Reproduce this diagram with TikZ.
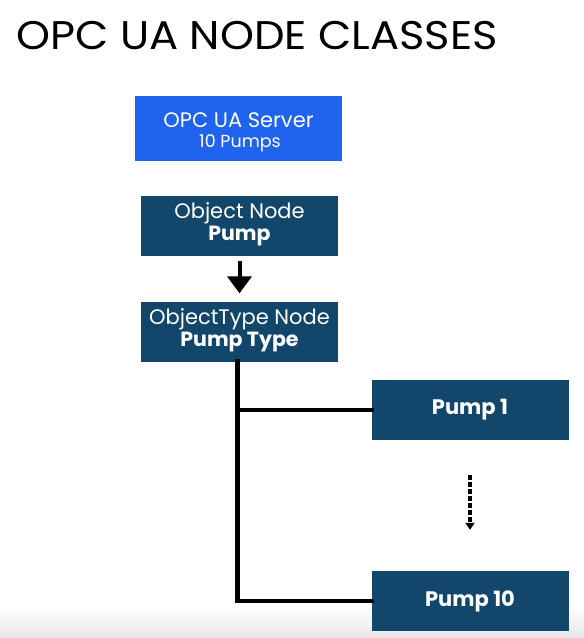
\documentclass[tikz,border=0pt]{standalone}
\usepackage{fontspec}
\setmainfont{Poppins}
\usetikzlibrary{arrows.meta}
\definecolor{navy}{HTML}{12476B}
\definecolor{srvblue}{HTML}{1F63EE}
\begin{document}
\begin{tikzpicture}[x=1pt,y=-1pt,
  navybox/.style={fill=navy, text=white, inner sep=0pt, align=center, minimum width=197pt, minimum height=60pt},
  srvbox/.style={fill=srvblue, text=white, inner sep=0pt, align=center, minimum width=207pt, minimum height=65pt},
  conn/.style={line width=4.5pt, line cap=rect},
  bigarrow/.style={line width=4pt, -{Triangle[width=24pt,length=17pt]}},
  dotarrow/.style={line width=4.5pt, dash pattern=on 5pt off 2pt, -{Triangle[width=9pt,length=7pt]}},
  lt/.style={font=\fontsize{21}{25}\selectfont},
  bd/.style={font=\fontsize{20.5}{25}\selectfont\bfseries}
]
\useasboundingbox (0,0) rectangle (584,638);
\fill[white] (0,0) rectangle (584,638);
\shade[top color=white, bottom color=black!10] (0,606) rectangle (584,638);

\node[anchor=west, font=\fontsize{40}{46}\selectfont, inner sep=0pt] (title) at (16,36) {\scalebox{1.08}[1]{OPC UA NODE CLASSES}};

\node[srvbox] (srv) at (238.5,128.5) {};
\node[text=white, font=\fontsize{21}{25}\selectfont, inner sep=0pt] (srvt1) at (238.5,120) {OPC UA Server};
\node[text=white, font=\fontsize{17.5}{21}\selectfont, inner sep=0pt] (srvt2) at (240,143) {10 Pumps};

\node[navybox] (on) at (239.5,226) {};
\node[text=white, lt, inner sep=0pt] (ont1) at (239.5,213) {Object Node};
\node[text=white, bd, inner sep=0pt] (ont2) at (239.5,236) {Pump};

\node[navybox] (ot) at (239.5,331.5) {};
\node[text=white, lt, inner sep=0pt] (ott1) at (239.5,319) {ObjectType Node};
\node[text=white, bd, inner sep=0pt] (ott2) at (239.5,342) {Pump Type};

\node[navybox, font=\fontsize{21}{25}\selectfont\bfseries] (p1) at (470,410) {Pump 1};
\node[navybox, font=\fontsize{21}{25}\selectfont\bfseries] (p10) at (470,601) {Pump 10};

\draw[bigarrow] ([yshift=-5pt]on.south) -- ([yshift=8pt]ot.north);

\draw[conn] ([xshift=-2pt]ot.south) |- (p10.west);
\draw[conn] ([xshift=-2pt]ot.south |- p1.west) -- (p1.west);

\draw[dotarrow] ([yshift=-35pt]p1.south) -- ([yshift=41pt]p10.north);
\end{tikzpicture}
\end{document}
